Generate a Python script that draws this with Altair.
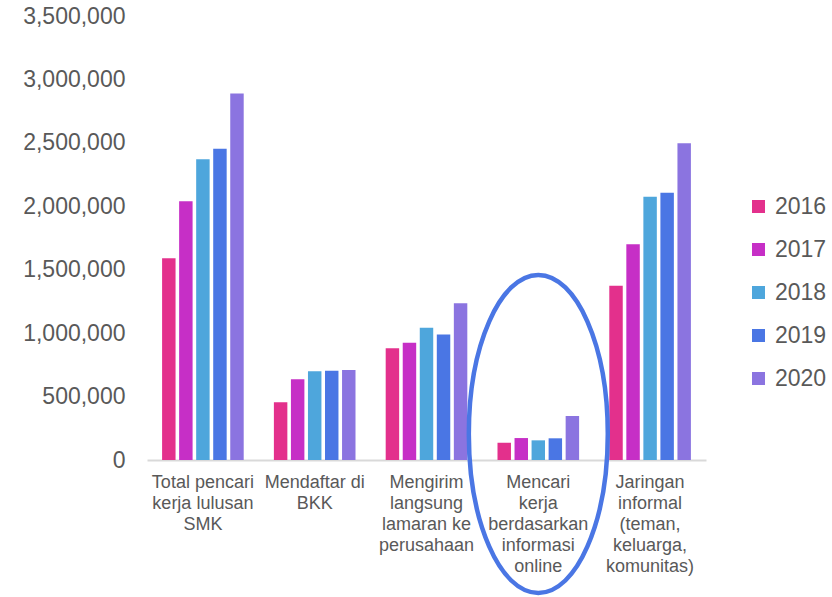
import altair as alt
import pandas as pd

categories = [
    "Total pencari\nkerja lulusan\nSMK",
    "Mendaftar di\nBKK",
    "Mengirim\nlangsung\nlamaran ke\nperusahaan",
    "Mencari\nkerja\nberdasarkan\ninformasi\nonline",
    "Jaringan\ninformal\n(teman,\nkeluarga,\nkomunitas)",
]
years = ["2016", "2017", "2018", "2019", "2020"]
v2016 = [1590000, 455000, 880000, 136000, 1374000]
v2017 = [2040000, 636000, 925000, 173000, 1700000]
v2018 = [2370000, 699000, 1043000, 155000, 2075000]
v2019 = [2453000, 704000, 990000, 171000, 2107000]
v2020 = [2890000, 709000, 1235000, 347000, 2496000]
colors = ["#E3308C", "#C62FC6", "#4EA6DC", "#4A76E4", "#8B74E0"]
y_ticks = [0, 500000, 1000000, 1500000, 2000000, 2500000, 3000000, 3500000]

# highlight ellipse around the "online" category
highlight_category = [categories[3]]
highlight_value = [205000]

rows = []
for yr, vals in zip(years, [v2016, v2017, v2018, v2019, v2020]):
    for c, v in zip(categories, vals):
        rows.append({"category": c, "year": yr, "value": v})
df = pd.DataFrame(rows)
ell_df = pd.DataFrame({"category": highlight_category, "value": highlight_value})

FONT = "Liberation Sans"

x_axis = alt.Axis(
    title=None,
    labelExpr="split(datum.label, '\\n')",
    labelAngle=0,
    labelFontSize=18,
    labelLineHeight=21,
    labelColor="#595959",
    labelPadding=13,
    labelLimit=300,
    ticks=False,
    domainColor="#d9d9d9",
    domainWidth=2,
    grid=False,
)
y_axis = alt.Axis(
    title=None,
    values=y_ticks,
    format=",.0f",
    labelFontSize=23,
    labelColor="#595959",
    labelPadding=22,
    ticks=False,
    domain=False,
    grid=False,
)
x_scale = alt.Scale(paddingInner=0.27, paddingOuter=0.135)
y_scale = alt.Scale(domain=[0, 3500000], nice=False)

bars = alt.Chart(df).mark_bar().encode(
    x=alt.X("category:N", sort=categories, scale=x_scale, axis=x_axis),
    xOffset=alt.XOffset("year:N", sort=years, scale=alt.Scale(paddingInner=0.21)),
    y=alt.Y("value:Q", scale=y_scale, axis=y_axis),
    color=alt.Color(
        "year:N",
        scale=alt.Scale(domain=years, range=colors),
        legend=alt.Legend(
            title=None,
            orient="none",
            legendX=600,
            legendY=179,
            symbolType="square",
            symbolSize=169,
            symbolStrokeWidth=0,
            labelFontSize=23,
            labelColor="#595959",
            labelOffset=5,
            rowPadding=19,
            padding=0,
        ),
    ),
)

ellipse = alt.Chart(ell_df).mark_point(
    shape="M0,-1 A0.437,1 0 1,1 0,1 A0.437,1 0 1,1 0,-1 Z",
    filled=False,
    strokeWidth=4.5,
    color="#4A76E4",
    opacity=1,
    size=101124,
).encode(
    x=alt.X("category:N", sort=categories, scale=x_scale, axis=x_axis),
    y=alt.Y("value:Q", scale=y_scale, axis=y_axis),
)

chart = (
    alt.layer(bars, ellipse)
    .properties(
        width=559,
        height=444,
        autosize=alt.AutoSizeParams(type="none"),
        padding={"left": 147, "top": 16, "right": 126, "bottom": 137},
    )
    .configure(font=FONT)
    .configure_view(stroke=None)
)

chart.save("out.html", embed_options={"renderer": "svg", "actions": False})
